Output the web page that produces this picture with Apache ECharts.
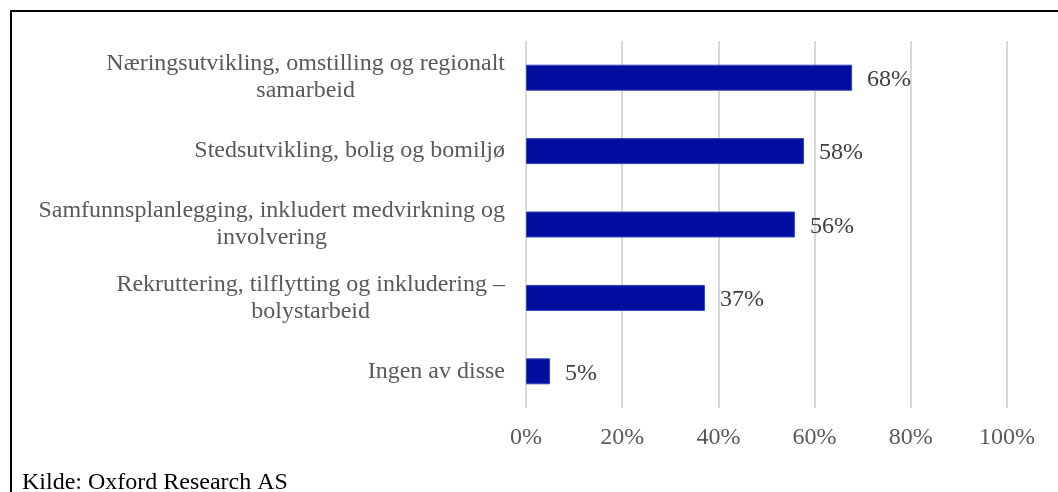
<!DOCTYPE html>
<html>
<head>
<meta charset="utf-8">
<script src="https://cdn.jsdelivr.net/npm/echarts@6/dist/echarts.min.js"></script>
<style>
html,body{margin:0;padding:0;background:#fff;}
#chart{width:1058px;height:492px;}
</style>
</head>
<body>
<div id="chart"></div>
<script>
var categories = [
  'Næringsutvikling, omstilling og regionalt\nsamarbeid',
  'Stedsutvikling, bolig og bomiljø',
  'Samfunnsplanlegging, inkludert medvirkning og\ninvolvering',
  'Rekruttering, tilflytting og inkludering –\nbolystarbeid',
  'Ingen av disse'
];
var values = [67.8, 57.8, 55.9, 37.2, 5.0];
var xTicks = [0, 20, 40, 60, 80, 100];
var sourceText = 'Kilde: Oxford Research AS';

var serif = '"Liberation Serif", "Times New Roman", serif';
var chart = echarts.init(document.getElementById('chart'));
chart.setOption({
  animation: false,
  backgroundColor: '#fff',
  grid: { left: 526, right: 51, top: 41, bottom: 84, containLabel: false },
  xAxis: {
    type: 'value',
    min: xTicks[0],
    max: xTicks[xTicks.length - 1],
    interval: xTicks[1] - xTicks[0],
    axisLine: { show: false },
    axisTick: { show: false },
    splitLine: { show: true, lineStyle: { color: '#d9d9d9', width: 2 } },
    axisLabel: {
      formatter: function (v) { return v + '%'; },
      color: '#595959', fontFamily: serif, fontSize: 24, margin: 18
    }
  },
  yAxis: {
    type: 'category',
    inverse: true,
    data: categories,
    axisLine: { show: false },
    axisTick: { show: false },
    axisLabel: {
      color: '#595959', fontFamily: serif, fontSize: 24, margin: 21,
      lineHeight: 27, align: 'right',
      formatter: function (v) {
        return v.split('\n').map(function (l) { return '{c|' + l + '}'; }).join('\n');
      },
      rich: { c: { align: 'center', color: '#595959', fontFamily: serif, fontSize: 24, lineHeight: 27 } }
    }
  },
  series: [{
    type: 'bar',
    data: values,
    barWidth: 26,
    itemStyle: { color: '#000E9F', borderColor: '#3445bd', borderWidth: 1 },
    label: {
      show: true, position: 'right', distance: 15, offset: [0, 2],
      formatter: function (p) { return Math.round(p.value) + '%'; },
      color: '#404040', fontFamily: serif, fontSize: 24
    }
  }],
  graphic: [
    { type: 'rect', shape: { x: 11, y: 11, width: 1200, height: 700 }, style: { fill: 'none', stroke: '#000', lineWidth: 2 }, silent: true },
    { type: 'text', left: 22, top: 471, style: { text: sourceText, fill: '#000', font: '24px ' + serif } }
  ]
});
</script>
</body>
</html>
